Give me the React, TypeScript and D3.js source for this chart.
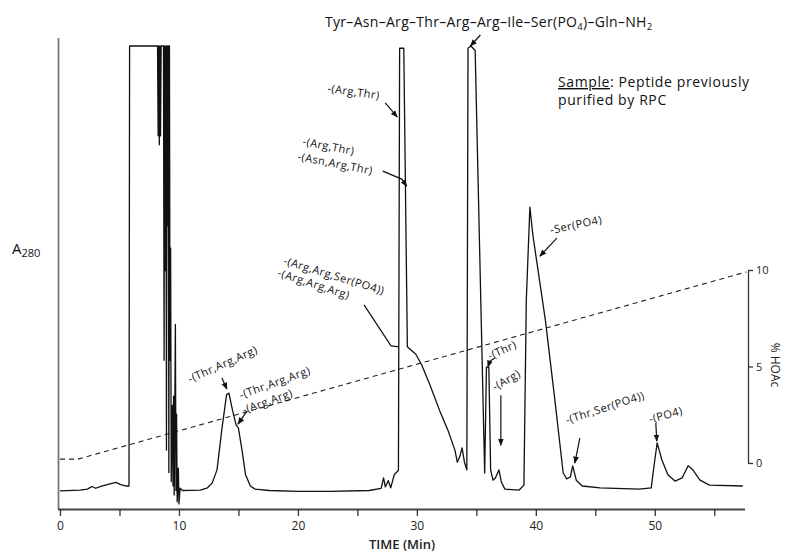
import React, { useEffect, useRef } from 'react';
import * as d3 from 'd3';

// chromatogram trace (time in min, absorbance in arbitrary units, 100 = recorder limit)
const traceTime = [
  0.0, 1.7, 2.3, 2.7, 3.0, 3.5, 4.2, 4.7, 5.1, 5.6, 5.8, 5.85, 8.2, 8.25, 8.3, 8.35, 8.4, 8.45, 8.5,
  8.6, 8.7, 8.75, 8.8, 8.85, 8.9, 8.95, 9.0, 9.05, 9.1, 9.15, 9.2, 9.25, 9.3, 9.35, 9.45, 9.5, 9.55,
  9.6, 9.7, 9.75, 9.8, 9.85, 9.95, 10.0, 10.1, 10.3, 11.8, 12.4, 12.8, 13.2, 13.6, 14.0, 14.2, 14.5,
  14.8, 15.0, 15.3, 15.6, 16.0, 16.4, 17.6, 20.0, 22.7, 26.0, 27.0, 27.2, 27.35, 27.6, 27.8, 28.1,
  28.45, 28.55, 28.9, 29.2, 29.5, 29.9, 30.4, 31.1, 31.9, 32.6, 33.2, 33.4, 33.6, 33.8, 34.0, 34.2,
  34.3, 34.55, 34.9, 35.7, 35.85, 36.05, 36.2, 36.4, 36.6, 36.9, 37.1, 37.4, 38.6, 39.0, 39.2, 39.5,
  39.75, 40.8, 41.6, 42.3, 42.6, 42.9, 43.1, 43.4, 43.9, 45.4, 48.7, 49.7, 50.0, 50.2, 50.6, 51.1,
  51.7, 52.3, 52.8, 53.2, 53.8, 54.6, 57.4,
];
const traceAbs = [
  0.9, 1.1, 1.3, 1.9, 1.5, 2.0, 2.5, 2.8, 2.3, 2.0, 2.0, 100, 100, 80, 100, 78, 100, 80, 100,
  100, 100, 30, 100, 50, 100, 10, 100, 60, 100, 5, 100, 30, 55, 3, 20, 2, 22,
  0, 38, 1, 18, -1.5, 6, -2, 1.5, 1.0, 1.1, 1.6, 2.7, 5.6, 14.5, 22.3, 22.7, 18.9,
  15.6, 14.9, 10, 4.5, 2.0, 1.3, 1.0, 0.8, 0.8, 1.0, 1.5, 3.8, 1.8, 3.2, 1.6, 4.5,
  5.5, 99.5, 99.5, 33, 32.3, 31.4, 29, 24.5, 18.9, 14.5, 10, 7.3, 8.5, 10.5, 7.3, 5.6,
  99.5, 100, 99, 4.9, 28.5, 28.5, 5.6, 3.3, 3.8, 5.6, 2.9, 1.3, 1.1, 2.2, 43.4, 64.1,
  57.9, 39, 21.2, 4.9, 3.6, 4.0, 6.5, 3.3, 2.0, 1.6, 1.3, 1.6, 7.8, 11.6, 7.8, 4.5,
  3.1, 3.8, 6.5, 5.6, 3.3, 2.2, 2.0,
];

// % HOAc gradient
const gradTime = [0, 1.5, 57.7];
const gradPct = [0.2, 0.2, 9.9];

const timeTicks = [0, 5, 10, 15, 20, 25, 30, 35, 40, 45, 50, 55];
const timeLabels = [0, 10, 20, 30, 40, 50];
const pctTicks = [0, 5, 10];

// peak annotations
const peakLabels = [
  { text: '-(Thr,Arg,Arg)', x: 190, y: 383, rot: -24 },
  { text: '-(Thr,Arg,Arg)', x: 241, y: 399, rot: -20 },
  { text: '-(Arg,Arg)', x: 244, y: 414, rot: -20 },
  { text: '-(Arg,Thr)', x: 327, y: 92, rot: 8 },
  { text: '-(Arg,Thr)', x: 302, y: 145, rot: 11 },
  { text: '-(Asn,Arg,Thr)', x: 297, y: 160, rot: 11 },
  { text: '-(Arg,Arg,Ser(PO4))', x: 283, y: 264, rot: 17 },
  { text: '-(Arg,Arg,Arg)', x: 277, y: 276, rot: 18 },
  { text: '-(Thr)', x: 490, y: 360, rot: -25 },
  { text: '-(Arg)', x: 495, y: 391, rot: -30 },
  { text: '-Ser(PO4)', x: 551, y: 234, rot: -12 },
  { text: '-(Thr,Ser(PO4))', x: 567, y: 424, rot: -18 },
  { text: '-(PO4)', x: 650, y: 423, rot: -15 },
];

const arrows = [
  { t: 34.5, a: 100, path: [[10, -11]], head: true },
  { t: 28.35, a: 84.2, path: [[-12, -14]], head: true },
  { t: 29.15, a: 68.8, path: [[-24, -15], [-5, -7]], head: true },
  { t: 28.5, a: 33, path: [[-35, -42], [-8, -1]], head: false },
  { t: 14.03, a: 23.6, path: [[-5, -11]], head: true },
  { t: 14.96, a: 15.8, path: [[9, -13]], head: true },
  { t: 35.97, a: 28.5, path: [[7, -9], [2, -6]], head: true },
  { t: 37.06, a: 11.1, path: [[0, -50]], head: true },
  { t: 40.34, a: 53.2, path: [[17, -18]], head: true },
  { t: 43.28, a: 7.1, path: [[5, -25]], head: true },
  { t: 50.17, a: 12, path: [[-1, -18]], head: true },
];

const FONT = "'Open Sans', 'DejaVu Sans', sans-serif";

const App = () => {
  const ref = useRef<SVGSVGElement>(null);

  useEffect(() => {
    const svg = d3.select(ref.current);
    svg.selectAll('*').remove();

    const x = d3.scaleLinear().domain([0, 57.5]).range([60, 744]);
    const y = d3.scaleLinear().domain([0, 100]).range([495, 46]);
    const yPct = d3.scaleLinear().domain([0, 10]).range([463, 270]);

    const defs = svg.append('defs');
    defs.append('marker')
      .attr('id', 'head')
      .attr('viewBox', '0 0 10 10')
      .attr('refX', 9).attr('refY', 5)
      .attr('markerWidth', 6).attr('markerHeight', 6)
      .attr('orient', 'auto')
      .append('path').attr('d', 'M0,1L10,5L0,9z').attr('fill', '#111');

    // left axis line (no ticks)
    svg.append('line')
      .attr('x1', 58.5).attr('x2', 58.5).attr('y1', 38).attr('y2', 509)
      .attr('stroke', '#777').attr('stroke-width', 1.8);

    // bottom time axis
    const xAxis = d3.axisBottom(x).tickValues(timeTicks).tickSize(7).tickSizeOuter(0)
      .tickFormat((d: any) => (timeLabels.includes(+d) ? String(d) : ''));
    const gx = svg.append('g').attr('transform', 'translate(0,509)').call(xAxis);
    gx.select('.domain').attr('stroke', '#444').attr('stroke-width', 1.8).attr('d', 'M58,0.5H745');
    gx.selectAll('.tick line').attr('stroke', '#333').attr('stroke-width', 1.3);
    gx.selectAll('.tick text').attr('font-family', FONT).attr('font-size', 12).attr('fill', '#222').attr('dy', '0.9em');

    svg.append('text')
      .attr('x', 402).attr('y', 549).attr('text-anchor', 'middle')
      .attr('font-family', FONT).attr('font-size', 13).attr('font-weight', 600).attr('fill', '#222')
      .text('TIME (Min)');

    // right % HOAc axis
    const yAxis = d3.axisRight(yPct).tickValues(pctTicks).tickSize(5).tickSizeOuter(0);
    const gy = svg.append('g').attr('transform', 'translate(748,0)').call(yAxis);
    gy.select('.domain').attr('stroke', '#333').attr('stroke-width', 1.3);
    gy.selectAll('.tick line').attr('stroke', '#333').attr('stroke-width', 1.3);
    gy.selectAll('.tick text').attr('font-family', FONT).attr('font-size', 11).attr('fill', '#222');

    svg.append('text')
      .attr('transform', 'translate(771,365) rotate(90)')
      .attr('text-anchor', 'middle')
      .attr('font-family', FONT).attr('font-size', 12).attr('fill', '#222')
      .text('% HOAc');

    // gradient (dashed)
    const grad = gradTime.map((t, i) => [t, gradPct[i]] as [number, number]);
    svg.append('path')
      .attr('d', d3.line<[number, number]>().x(d => x(d[0])).y(d => yPct(d[1]))(grad))
      .attr('fill', 'none').attr('stroke', '#222').attr('stroke-width', 1.1)
      .attr('stroke-dasharray', '5,4');

    // chromatogram trace
    const trace = traceTime.map((t, i) => [t, traceAbs[i]] as [number, number]);
    svg.append('path')
      .attr('d', d3.line<[number, number]>().x(d => x(d[0])).y(d => y(d[1]))(trace))
      .attr('fill', 'none').attr('stroke', '#111').attr('stroke-width', 1.3)
      .attr('stroke-linejoin', 'round');

    // arrows
    arrows.forEach(a => {
      const tx = x(a.t), ty = y(a.a);
      const pts = a.path.map(p => [tx + p[0], ty + p[1]] as [number, number]);
      pts.push([tx, ty]);
      svg.append('path')
        .attr('d', d3.line()(pts))
        .attr('fill', 'none').attr('stroke', '#111').attr('stroke-width', 1.2)
        .attr('marker-end', a.head ? 'url(#head)' : null);
    });

    // peak labels
    peakLabels.forEach(l => {
      svg.append('text')
        .attr('transform', `translate(${l.x},${l.y}) rotate(${l.rot})`)
        .attr('font-family', FONT).attr('font-size', 11).attr('letter-spacing', 0.5)
        .attr('fill', '#111')
        .text(l.text);
    });

    // sequence label
    const seq = svg.append('text')
      .attr('x', 325).attr('y', 27)
      .attr('font-family', FONT).attr('font-size', 14).attr('letter-spacing', 0.3).attr('fill', '#111');
    seq.append('tspan').text('Tyr–Asn–Arg–Thr–Arg–Arg–Ile–Ser(PO');
    seq.append('tspan').attr('font-size', 9.5).attr('dy', 3).text('4');
    seq.append('tspan').attr('dy', -3).text(')–Gln–NH');
    seq.append('tspan').attr('font-size', 9.5).attr('dy', 3).text('2');

    // sample note
    const s1 = svg.append('text').attr('x', 558).attr('y', 87)
      .attr('font-family', FONT).attr('font-size', 14).attr('letter-spacing', 0.6).attr('fill', '#111');
    s1.append('tspan').attr('text-decoration', 'underline').text('Sample');
    s1.append('tspan').text(': Peptide previously');
    svg.append('text').attr('x', 558).attr('y', 105)
      .attr('font-family', FONT).attr('font-size', 14).attr('letter-spacing', 0.6).attr('fill', '#111')
      .text('purified by RPC');

    // A280
    const a280 = svg.append('text').attr('x', 12).attr('y', 254)
      .attr('font-family', FONT).attr('font-size', 15).attr('fill', '#111');
    a280.append('tspan').text('A');
    a280.append('tspan').attr('font-size', 11).attr('dy', 3).text('280');
  }, []);

  return (
    <svg
      ref={ref}
      width={787}
      height={553}
      style={{ position: 'absolute', left: 0, top: 0, background: '#fff' }}
    />
  );
};

export default App;
